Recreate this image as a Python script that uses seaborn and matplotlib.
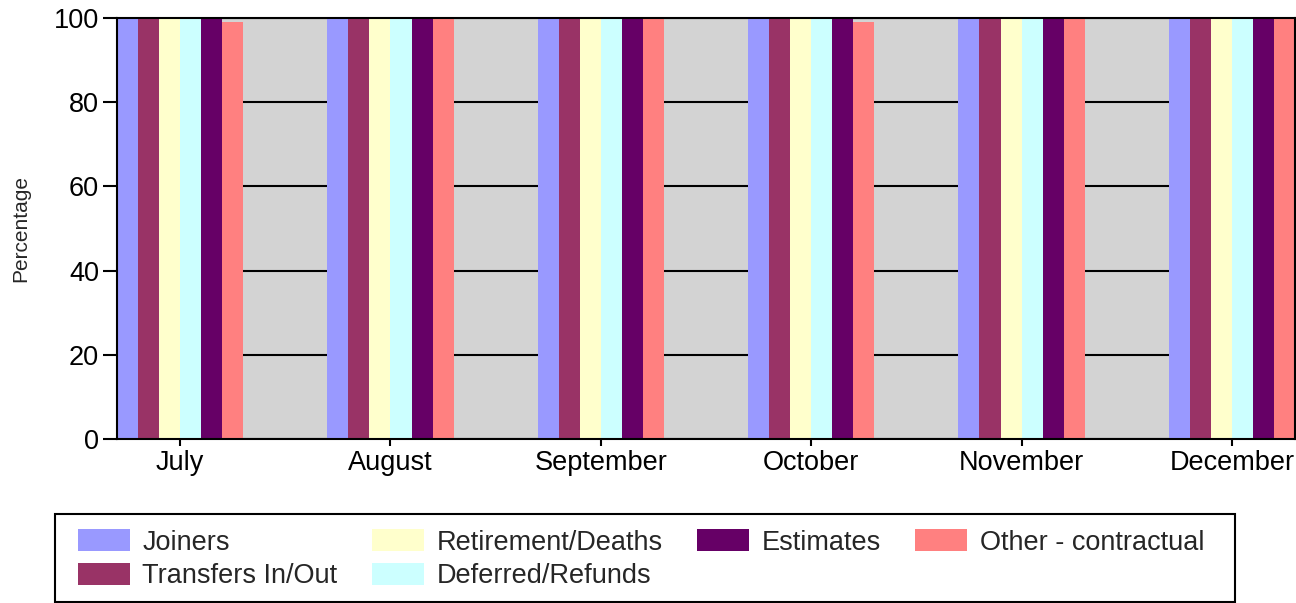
import pandas as pd
import matplotlib
matplotlib.use("Agg")
import matplotlib.pyplot as plt
import matplotlib.patches as mpatches
import seaborn as sns

months = ["July", "August", "September", "October", "November", "December"]
series = ["Joiners", "Transfers In/Out", "Retirement/Deaths",
          "Deferred/Refunds", "Estimates", "Other - contractual"]
colors = ["#9999FF", "#993366", "#FFFFCC", "#CCFFFF", "#660066", "#FF8080"]

joiners = [100, 100, 100, 100, 100, 100]
transfers = [100, 100, 100, 100, 100, 100]
retirement = [100, 100, 100, 100, 100, 100]
deferred = [100, 100, 100, 100, 100, 100]
estimates = [100, 100, 100, 100, 100, 100]
other = [99, 100, 100, 99, 100, 100]

values = [joiners, transfers, retirement, deferred, estimates, other]
rows = []
for name, vals in zip(series, values):
    for m, v in zip(months, vals):
        rows.append({"Month": m, "Series": name, "Percentage": v})
df = pd.DataFrame(rows)

sns.set_theme(style="white")
plt.rcParams["font.family"] = ["Liberation Sans", "DejaVu Sans"]

W, H = 1296, 603
fig = plt.figure(figsize=(W / 100, H / 100), dpi=100)
ax = fig.add_axes([117 / W, 1 - 439 / H, (1295 - 117) / W, (439 - 18) / H])

sns.barplot(data=df, x="Month", y="Percentage", hue="Series", order=months,
            hue_order=series, palette=colors, saturation=1, width=0.6,
            linewidth=0, ax=ax, legend=False)

ax.set_facecolor("#D3D3D3")
ax.set_xlim(-0.3, 5.3)
ax.set_ylim(0, 100)
ax.set_yticks([0, 20, 40, 60, 80, 100])
ax.yaxis.grid(True, color="black", linewidth=1.5)
ax.set_axisbelow(True)
for s in ax.spines.values():
    s.set_color("black")
    s.set_linewidth(1.5)
    s.set_visible(True)
ax.tick_params(axis="y", direction="out", length=10, width=1.5, labelsize=19.5, left=True, colors="black", pad=3)
ax.tick_params(axis="x", direction="out", length=5, width=1.5, labelsize=19.5, bottom=True, colors="black", pad=3)
ax.set_xlabel("")
ax.set_ylabel("Percentage", fontsize=15)
ax.yaxis.set_label_coords(-0.074, 0.5)

# legend box drawn separately so the padding matches the original
fig.patches.append(mpatches.Rectangle((55 / W, 1 - 602 / H), (1235 - 55) / W, 88 / H,
                                      transform=fig.transFigure, facecolor="white",
                                      edgecolor="black", linewidth=1.5))
handles = [mpatches.Patch(facecolor=c, edgecolor="none") for c in colors]
leg = fig.legend(handles, series, ncol=4, loc="upper left",
                 bbox_to_anchor=(78 / W, 1 - 529 / H),
                 fontsize=19.5, frameon=False,
                 handlelength=1.93, handleheight=0.89, columnspacing=1.27,
                 handletextpad=0.45, labelspacing=0.27, borderaxespad=0, borderpad=0)

plt.savefig("out.png", dpi=100)
